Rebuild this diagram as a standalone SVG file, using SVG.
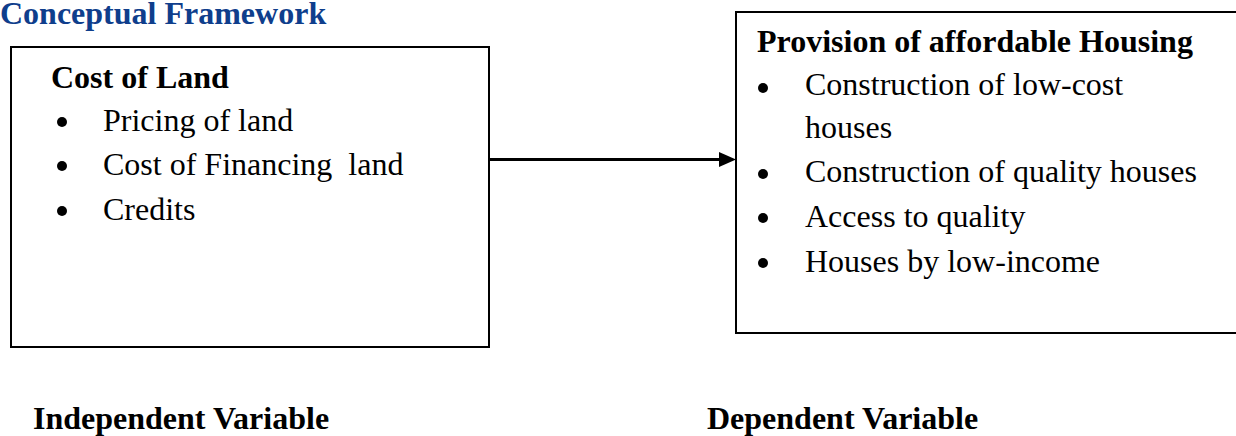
<svg xmlns="http://www.w3.org/2000/svg" width="1236" height="436" viewBox="0 0 1236 436">
<style>
text{font-family:"Liberation Serif","Times New Roman",serif;font-size:32px;fill:#000}
.b{font-weight:bold}
.title{font-weight:bold;fill:#0f3e8c}
.box{fill:#fff;stroke:#000;stroke-width:2}
.bul{fill:#000}
.conn{stroke:#000;stroke-width:3;fill:none}
</style>
<rect width="1236" height="436" fill="#fff"/>
<text class="title" x="0" y="24">Conceptual Framework</text>
<g id="cost-of-land">
<rect class="box" x="11" y="47" width="478" height="300"/>
<text class="b" x="51" y="88">Cost of Land</text>
<circle class="bul" cx="62" cy="122" r="5"/>
<text x="103" y="131">Pricing of land</text>
<circle class="bul" cx="62" cy="166" r="5"/>
<text x="103" y="175" xml:space="preserve">Cost of Financing  land</text>
<circle class="bul" cx="62" cy="211" r="5"/>
<text x="103" y="220">Credits</text>
</g>
<g id="provision-housing">
<rect class="box" x="736" y="12" width="510" height="321"/>
<text class="b" x="757" y="52">Provision of affordable Housing</text>
<circle class="bul" cx="763" cy="88" r="5"/>
<text x="805" y="95">Construction of low-cost</text>
<text x="805" y="138">houses</text>
<circle class="bul" cx="763" cy="174" r="5"/>
<text x="805" y="182">Construction of quality houses</text>
<circle class="bul" cx="763" cy="218" r="5"/>
<text x="805" y="227">Access to quality</text>
<circle class="bul" cx="763" cy="263" r="5"/>
<text x="805" y="272">Houses by low-income</text>
</g>
<g id="connectors">
<line class="conn" x1="489" y1="159.5" x2="720" y2="159.5"/>
<path d="M719,152 L736,159.5 L719,167 Z" fill="#000"/>
</g>
<g id="labels">
<text class="b" x="33" y="429">Independent Variable</text>
<text class="b" x="707" y="429">Dependent Variable</text>
</g>
</svg>
